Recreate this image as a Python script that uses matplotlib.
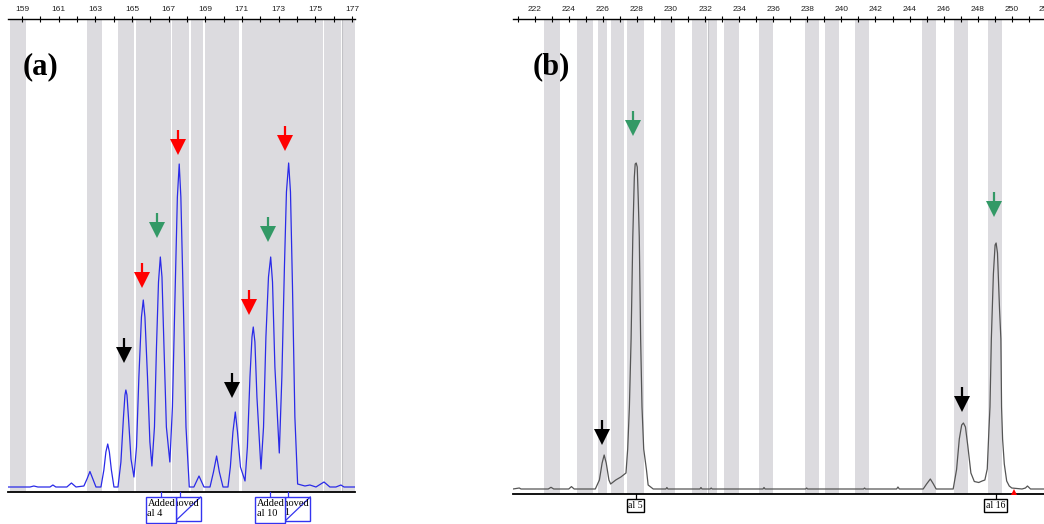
import matplotlib
matplotlib.use('Agg')
import matplotlib.pyplot as plt
from matplotlib.patches import Rectangle
from matplotlib.transforms import blended_transform_factory, offset_copy

# ---- panel (a): blue trace, sizes in bp, signal in rfu
size_a = [158.24, 159.44, 159.65, 159.87, 160.53, 160.69, 160.85, 161.45, 161.70, 161.95,
          162.38, 162.55, 162.71, 162.87, 163.04, 163.31, 163.47, 163.58, 163.68, 163.77,
          163.88, 164.02, 164.24,
          164.40, 164.54, 164.62, 164.67, 164.73, 164.81, 164.95, 165.11,
          165.25, 165.38, 165.52, 165.62, 165.71, 165.85, 165.98, 166.09,
          166.23, 166.34, 166.45, 166.55, 166.64, 166.75, 166.88, 167.07,
          167.21, 167.35, 167.48, 167.58, 167.67, 167.81, 167.95, 168.13,
          168.38, 168.66, 168.93, 169.26, 169.45, 169.62, 169.77, 169.97, 170.24,
          170.37, 170.51, 170.64, 170.76, 170.92, 171.17,
          171.30, 171.44, 171.55, 171.62, 171.71, 171.82, 172.04,
          172.18, 172.31, 172.45, 172.57, 172.67, 172.80, 173.04,
          173.18, 173.32, 173.43, 173.55, 173.65, 173.76, 173.89, 174.04,
          174.44, 174.71, 175.04, 175.48, 175.80, 176.13, 176.40, 176.57, 177.17]
rfu_a = [0, 0, 1, 0, 0, 2, 0, 0, 4, 0,
         1, 8, 15.5, 8, 0, 0, 17, 35, 43, 35,
         17, 0, 0,
         25, 70, 92, 97, 92, 70, 28, 10,
         40, 110, 170, 187, 170, 110, 45, 21,
         60, 140, 205, 230, 210, 140, 60, 25,
         80, 190, 290, 323, 290, 180, 60, 0,
         0, 11, 0, 0, 15, 31, 15, 0, 0,
         20, 55, 75, 55, 20, 6,
         40, 110, 150, 160, 145, 90, 18,
         60, 150, 210, 230, 205, 120, 34,
         110, 220, 295, 324, 295, 200, 70, 3,
         1, 2, 0, 5, 0, 0, 2, 0, 0]

bins_a = [(158.35, 159.22), (162.56, 163.35), (164.25, 165.13), (165.22, 167.11),
          (167.18, 168.13), (168.20, 168.86), (168.98, 170.83), (170.99, 175.40),
          (175.48, 176.41), (176.45, 177.60)]
edges_a = [176.44]

arrow_size_a = [164.56, 165.56, 166.38, 167.53, 170.47, 171.40, 172.42, 173.36]
arrow_tip_a = [125, 200, 250, 333, 90, 173, 246, 337]
arrow_col_a = ['k', 'r', 'g', 'r', 'k', 'r', 'g', 'r']

added_size_a = [166.57, 172.55]
added_text_a = ['Added\nal 4', 'Added\nal 10']
removed_size_a = [167.60, 173.53]
removed_text_a = ['Removed\nal 5', 'Removed\nal 11']

# ---- panel (b): grey trace
size_b = [220.73, 221.10, 221.20, 221.30, 222.80, 222.96, 223.12, 224.00, 224.16, 224.32,
          225.56, 225.80, 225.96, 226.08, 226.20, 226.36, 226.46, 226.76, 227.06, 227.36,
          227.46, 227.56, 227.66, 227.76, 227.85, 227.90, 227.96, 228.02, 228.08, 228.14,
          228.22, 228.30, 228.40, 228.56, 228.66, 228.96,
          229.70, 229.76, 229.82, 231.70, 231.76, 231.82, 232.30, 232.36, 232.42,
          235.40, 235.46, 235.52, 237.90, 237.96, 238.02, 241.30, 241.36, 241.42,
          243.24, 243.32, 243.40,
          244.80, 245.00, 245.22, 245.40, 245.56,
          246.56, 246.76, 246.92, 247.06, 247.16, 247.28, 247.42, 247.60, 247.80, 248.06,
          248.26, 248.42,
          248.56, 248.66, 248.72, 248.80, 248.92, 249.02, 249.08, 249.16, 249.28, 249.36,
          249.40, 249.46, 249.56, 249.70, 249.85, 250.00, 250.60, 250.80, 250.92, 251.10,
          251.89]
rfu_b = [0, 1, 0, 0, 0, 1.7, 0, 0, 2.4, 0,
         0, 9, 26, 34, 26, 9, 5, 9, 12, 16,
         40, 82, 150, 252, 312, 325, 326, 322, 290, 252,
         150, 82, 40, 19.5, 4, 0,
         0, 1.5, 0, 0, 1.5, 0, 0, 1, 0,
         0, 1.5, 0, 0, 1, 0, 0, 1, 0,
         0, 2, 0,
         0, 5, 10, 5, 0,
         0, 19.5, 50, 64, 66, 62, 43, 16, 7.5, 6.5,
         8, 9,
         20, 60, 82, 150, 215, 244, 246, 236, 180, 150,
         82, 50, 25, 8, 3, 1, 0, 1, 3, 0,
         0]

bins_b = [(222.56, 223.46), (224.46, 225.42), (225.69, 226.27), (226.48, 227.26),
          (227.43, 228.43), (229.41, 230.23), (231.23, 232.13), (232.21, 232.72),
          (233.13, 234.02), (235.14, 235.96), (237.84, 238.66), (239.02, 239.85),
          (240.79, 241.62), (244.71, 245.53), (246.59, 247.42), (248.60, 249.42)]
edges_b = [232.18]

arrow_size_b = [225.98, 227.80, 247.05, 248.94]
arrow_tip_b = [45, 354, 78, 273]
arrow_col_b = ['k', 'g', 'k', 'g']

call_size_b = [227.92, 249.06]
call_text_b = ['al 5', 'al 16']
call_width_b = [1.04, 1.34]
flag_size_b = [250.13]

colors = {'k': '#000000', 'r': '#ff0000', 'g': '#339966'}
bin_grey = '#dcdbdf'
serif = ['Liberation Serif', 'DejaVu Serif']


def setup_axis(ax, lo, hi, first_label, last_label, ytop):
    for side in ['left', 'right']:
        ax.spines[side].set_visible(False)
    ax.spines['top'].set_linewidth(1.0)
    ax.spines['bottom'].set_linewidth(1.3)
    ax.set_yticks([])
    ax.set_xticks(range(first_label, last_label + 1, 2))
    ax.set_xticks(range(first_label - 1, last_label + 2), minor=True)
    ax.tick_params(axis='x', which='both', direction='inout', length=5, width=0.8,
                   top=True, bottom=False, labeltop=True, labelbottom=False,
                   labelsize=6, pad=1.5, labelcolor='#222222')
    for lab in ax.get_xticklabels():
        lab.set_family('Liberation Sans')
    # limits last, the minor ticks reach past the ends
    ax.set_xlim(lo, hi)
    ax.set_ylim(-5, ytop)
    ax.set_facecolor('white')


def edge_label(ax, x, text):
    # a scale number that runs off the side of the strip
    trans = offset_copy(blended_transform_factory(ax.transData, ax.transAxes),
                        fig=ax.figure, y=4.0, units='points')
    ax.text(x, 1.0, text, transform=trans, ha='center', va='bottom', fontsize=6,
            family='Liberation Sans', color='#222222', clip_on=False)


def draw_bins(ax, bins, edges):
    for lo, hi in bins:
        ax.axvspan(lo, hi, color=bin_grey, lw=0, zorder=0)
    for x in edges:
        ax.axvline(x, color='#c2c2c6', lw=0.8, zorder=0.5)


def draw_arrows(ax, xs, tips, cols):
    # y units are one pixel each, so the head and stem are placed in those units
    for x, tip, c in zip(xs, tips, cols):
        ax.plot([x, x], [tip + 10, tip + 24], color=colors[c], lw=1.6,
                solid_capstyle='butt', zorder=6)
        ax.plot(x, tip + 7.5, marker='v', ms=11, color=colors[c], mew=0, zorder=6)


def call_box(ax, x0, x1, tick, edge, zorder=10, y_bottom=-36):
    ax.plot([tick, tick], [-5, -10], color=edge, lw=0.9, clip_on=False, zorder=zorder)
    box = Rectangle((x0, y_bottom), x1 - x0, -10 - y_bottom, facecolor='white',
                    edgecolor=edge, lw=1.0, clip_on=False, zorder=zorder)
    ax.add_patch(box)
    return box


fig = plt.figure(figsize=(10.44, 5.24), dpi=100)
ax_a = fig.add_axes([8 / 1044, 32 / 524, 347 / 1044, 473 / 524])
ax_b = fig.add_axes([513 / 1044, 30 / 524, 531 / 1044, 475 / 524])

# ---------------- (a)
setup_axis(ax_a, 158.24, 177.17, 159, 177, 468)
draw_bins(ax_a, bins_a, edges_a)
ax_a.plot(size_a, rfu_a, color='#2a2ae8', lw=0.9, zorder=4)
draw_arrows(ax_a, arrow_size_a, arrow_tip_a, arrow_col_a)

box_blue = '#3434f0'
for i in range(len(added_size_a)):
    a_lo = added_size_a[i] - 0.82
    a_hi = added_size_a[i] + 0.82
    r_hi = a_hi + 1.36
    # removed call sits under the added one, its label cut by its own box
    rbox = call_box(ax_a, a_hi, r_hi, removed_size_a[i], box_blue, zorder=8, y_bottom=-33.7)
    ax_a.plot([a_hi, r_hi], [-33.7, -10], color=box_blue, lw=0.9, clip_on=False, zorder=8)
    t = ax_a.text(a_hi - 0.86, -11.5, removed_text_a[i], ha='left', va='top', fontsize=7.5,
                  family=serif, linespacing=1.1, zorder=8.5)
    t.set_clip_path(rbox)
    call_box(ax_a, a_lo, a_hi, added_size_a[i], box_blue, zorder=10, y_bottom=-36)
    ax_a.text(a_lo + 0.1, -12.0, added_text_a[i], ha='left', va='top', fontsize=7.5,
              family=serif, linespacing=1.1, zorder=11, clip_on=False)

ax_a.text(159.05, 420, '(a)', fontsize=22, fontweight='bold', family=serif,
          ha='left', va='center', zorder=7)

# ---------------- (b)
setup_axis(ax_b, 220.73, 251.89, 222, 250, 470)
edge_label(ax_b, 252, '252')
draw_bins(ax_b, bins_b, edges_b)
ax_b.plot(size_b, rfu_b, color='#555555', lw=0.9, zorder=4)
draw_arrows(ax_b, arrow_size_b, arrow_tip_b, arrow_col_b)

for x, text, w in zip(call_size_b, call_text_b, call_width_b):
    call_box(ax_b, x - w / 2, x + w / 2, x, '#000000', y_bottom=-23)
    ax_b.text(x, -16.5, text, ha='center', va='center', fontsize=7, family=serif,
              zorder=11, clip_on=False)
ax_b.plot(flag_size_b, [-2.5] * len(flag_size_b), marker='^', ms=4.5, color='#ff0000',
          mew=0, ls='none', clip_on=False, zorder=9)

ax_b.text(221.9, 422, '(b)', fontsize=22, fontweight='bold', family=serif,
          ha='left', va='center', zorder=7)

fig.savefig('out.png', dpi=100, facecolor='white')
